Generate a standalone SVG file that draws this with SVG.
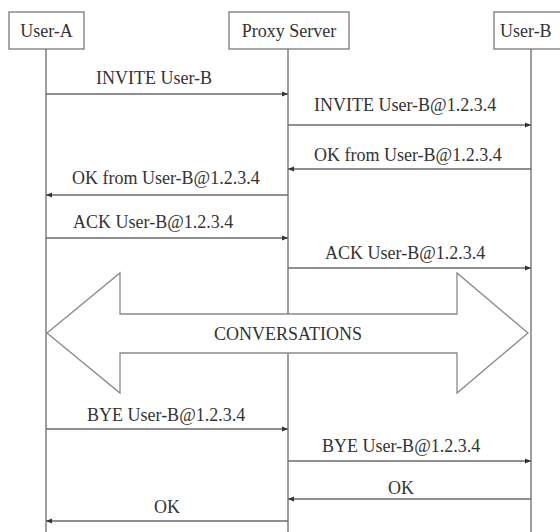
<svg xmlns="http://www.w3.org/2000/svg" width="560" height="532" viewBox="0 0 560 532">
  <style>
    .box { fill: #ffffff; stroke: #7a7a7a; stroke-width: 1.3; }
    .life { stroke: #6a6a6a; stroke-width: 1.3; fill: none; }
    .msg { stroke: #6a6a6a; stroke-width: 1.4; fill: none; }
    .lbl { font-family: "Liberation Serif", "Times New Roman", serif; font-size: 18px; fill: #333333; }
    .big { fill: #ffffff; stroke: #8a8a8a; stroke-width: 1.3; stroke-linejoin: miter; }
  </style>
  <defs>
    <marker id="head" viewBox="0 0 6 6" refX="6" refY="3" markerWidth="6" markerHeight="6" markerUnits="userSpaceOnUse" orient="auto">
      <path d="M0,0.6 L6,3 L0,5.4 z" fill="#333333"/>
    </marker>
  </defs>
  <rect width="560" height="532" fill="#ffffff"/>

  <!-- participants -->
  <g id="user-a">
    <rect class="box" x="9" y="12" width="75" height="37"/>
    <text class="lbl" x="46.5" y="37" text-anchor="middle">User-A</text>
    <line class="life" x1="46" y1="49" x2="46" y2="532"/>
  </g>
  <g id="proxy-server">
    <rect class="box" x="229" y="12" width="120" height="37"/>
    <text class="lbl" x="289" y="37" text-anchor="middle">Proxy Server</text>
    <line class="life" x1="288" y1="49" x2="288" y2="532"/>
  </g>
  <g id="user-b">
    <rect class="box" x="494" y="12" width="80" height="37"/>
    <text class="lbl" x="500" y="37">User-B</text>
    <line class="life" x1="531" y1="49" x2="531" y2="532"/>
  </g>

  <!-- conversation band -->
  <g id="conversations">
    <polygon class="big" points="47,333 120,273 120,314 457,314 457,273 528,333 457,393 457,353 120,353 120,393"/>
    <text class="lbl" x="288" y="340" text-anchor="middle">CONVERSATIONS</text>
  </g>

  <!-- messages -->
  <g id="connectors">
    <line class="msg" x1="46" y1="94" x2="288" y2="94" marker-end="url(#head)"/>
    <text class="lbl" x="96" y="84">INVITE User-B</text>

    <line class="msg" x1="288" y1="125" x2="531" y2="125" marker-end="url(#head)"/>
    <text class="lbl" x="314" y="111">INVITE User-B@1.2.3.4</text>

    <line class="msg" x1="531" y1="169" x2="288" y2="169" marker-end="url(#head)"/>
    <text class="lbl" x="314" y="161">OK from User-B@1.2.3.4</text>

    <line class="msg" x1="288" y1="195" x2="46" y2="195" marker-end="url(#head)"/>
    <text class="lbl" x="72" y="184">OK from User-B@1.2.3.4</text>

    <line class="msg" x1="46" y1="238" x2="288" y2="238" marker-end="url(#head)"/>
    <text class="lbl" x="73" y="228">ACK User-B@1.2.3.4</text>

    <line class="msg" x1="288" y1="268" x2="531" y2="268" marker-end="url(#head)"/>
    <text class="lbl" x="325" y="259">ACK User-B@1.2.3.4</text>

    <line class="msg" x1="46" y1="429" x2="288" y2="429" marker-end="url(#head)"/>
    <text class="lbl" x="87" y="421">BYE User-B@1.2.3.4</text>

    <line class="msg" x1="288" y1="461" x2="531" y2="461" marker-end="url(#head)"/>
    <text class="lbl" x="322" y="452">BYE User-B@1.2.3.4</text>

    <line class="msg" x1="531" y1="499" x2="288" y2="499" marker-end="url(#head)"/>
    <text class="lbl" x="388" y="494">OK</text>

    <line class="msg" x1="288" y1="521" x2="46" y2="521" marker-end="url(#head)"/>
    <text class="lbl" x="154" y="513">OK</text>
  </g>
</svg>
